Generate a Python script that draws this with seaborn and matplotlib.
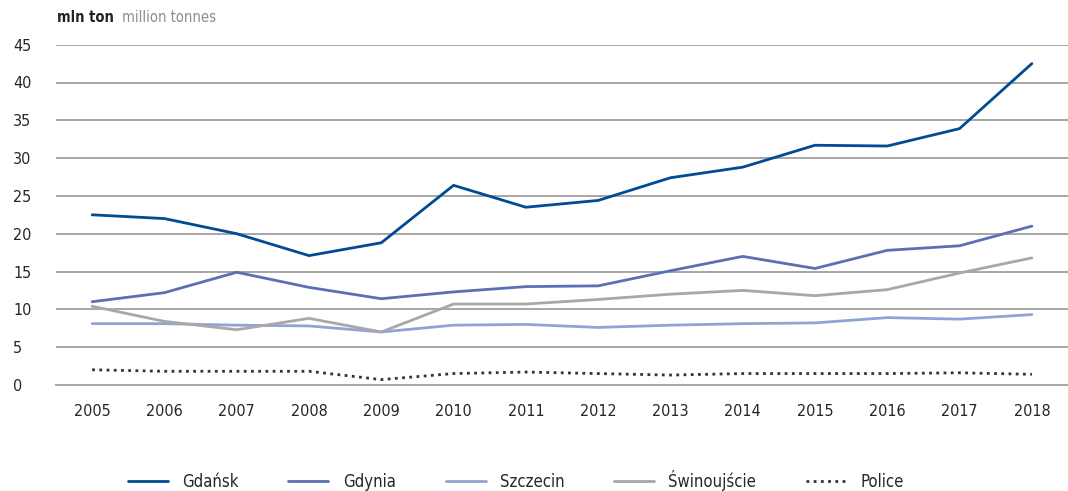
import pandas as pd
import matplotlib.pyplot as plt
import seaborn as sns

years = list(range(2005, 2019))
gdansk = [22.5, 22.0, 20.0, 17.1, 18.8, 26.4, 23.5, 24.4, 27.4, 28.8, 31.7, 31.6, 33.9, 42.5]
gdynia = [11.0, 12.2, 14.9, 12.9, 11.4, 12.3, 13.0, 13.1, 15.1, 17.0, 15.4, 17.8, 18.4, 21.0]
szczecin = [8.1, 8.1, 7.9, 7.8, 7.0, 7.9, 8.0, 7.6, 7.9, 8.1, 8.2, 8.9, 8.7, 9.3]
swinoujscie = [10.4, 8.4, 7.3, 8.8, 7.0, 10.7, 10.7, 11.3, 12.0, 12.5, 11.8, 12.6, 14.8, 16.8]
police = [2.0, 1.8, 1.8, 1.8, 0.7, 1.5, 1.7, 1.5, 1.3, 1.5, 1.5, 1.5, 1.6, 1.4]

names = ["Gdańsk", "Gdynia", "Szczecin", "Świnoujście", "Police"]
colors = ["#004b93", "#5b70b4", "#8fa3d5", "#a8a8a8", "#333333"]

df = pd.DataFrame({"rok": years, "Gdańsk": gdansk, "Gdynia": gdynia,
                   "Szczecin": szczecin, "Świnoujście": swinoujscie, "Police": police})
df["x"] = range(len(years))

sns.set_style("white")
plt.rcParams['font.family'] = ['DejaVu Sans']
plt.rcParams['font.stretch'] = 'condensed'

fig = plt.figure(figsize=(10.68, 4.91), dpi=100)
ax = fig.add_axes([56/1068, 1 - 384.9/491, 1 - 56/1068, (384.9 - 44.7)/491])

for name, col in zip(names, colors):
    sns.lineplot(data=df, x="x", y=name, ax=ax, color=col, lw=2, label=name)
    if name == "Police":
        ax.lines[-1].set_linestyle((0, (1, 1.6)))

ax.set_ylim(0, 45)
ax.set_xlim(-0.5, 13.36)
ax.set_yticks(range(0, 50, 5))
for v in range(5, 50, 5):
    ax.axhline(v, color="#a6a6a6", lw=1.4, zorder=0)

ax.set_xticks(range(len(years)))
ax.set_xticklabels([str(y) for y in years])
ax.set_xticks([i - 0.5 for i in range(len(years) + 1)], minor=True)
ax.tick_params(axis="x", which="major", length=0, pad=14, labelsize=11.5)
ax.tick_params(axis="x", which="minor", length=8, color="#a6a6a6", width=1)
ax.tick_params(axis="y", length=0, pad=31, labelsize=11.5)
for lab in ax.get_yticklabels():
    lab.set_horizontalalignment("left")
ax.set_xlabel("")
ax.set_ylabel("")

for s in ["top", "right", "left"]:
    ax.spines[s].set_visible(False)
ax.spines["bottom"].set_color("#a6a6a6")
ax.spines["bottom"].set_linewidth(1.4)

fig.text(57/1068, 1 - 18/491, "mln ton", fontsize=10.5, fontweight="bold",
         color="#222222", va="center")
fig.text(122/1068, 1 - 18/491, "million tonnes", fontsize=10.5,
         color="#8c8c8c", va="center")

ax.get_legend().remove()
handles, labels = ax.get_legend_handles_labels()
fig.legend(handles, labels, loc="lower center", ncol=5, frameon=False,
           bbox_to_anchor=(0.483, -0.03), fontsize=12, handlelength=2.4,
           handletextpad=0.85, columnspacing=3.0)

fig.savefig("out.png", dpi=100)
